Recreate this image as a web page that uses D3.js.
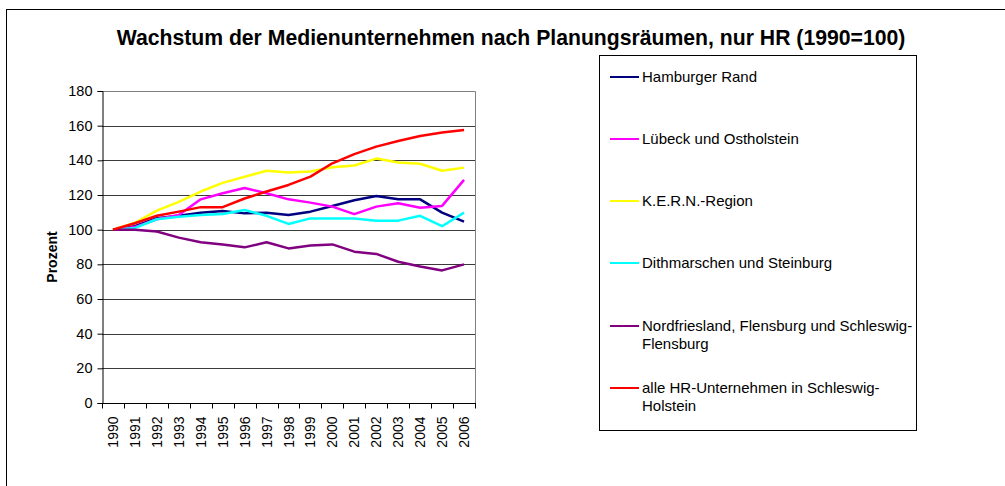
<!DOCTYPE html>
<html>
<head>
<meta charset="utf-8">
<script src="https://cdn.jsdelivr.net/npm/d3@7.9.0/dist/d3.min.js"></script>
<style>
  body { margin: 0; background: #fff; }
  svg { display: block; font-family: Arial, "Liberation Sans", sans-serif; }
</style>
</head>
<body>
<svg id="chart" width="1005" height="486"></svg>
<script>
const years = ['1990','1991','1992','1993','1994','1995','1996','1997','1998',
  '1999','2000','2001','2002','2003','2004','2005','2006'];

const hamburgerRand  = [100, 102, 106.6, 108, 109.8, 110.8, 109.4, 109.8, 108.5, 110.4, 113.7, 117, 119.4, 117.5, 117.5, 109.8, 104.6];
const luebeck        = [100, 101.5, 106, 108.5, 117.5, 121, 124, 121, 117.5, 115.6, 113.3, 109, 113.3, 115.2, 112.7, 113.7, 128.7];
const kern           = [100, 104, 111, 116, 122, 127, 130.5, 134, 133, 133.5, 136, 137, 141, 138.7, 138, 134, 135.8];
const dithmarschen   = [100, 101, 106, 107.5, 108.5, 109, 111.3, 108, 103.3, 106.5, 106.5, 106.5, 105.2, 105.2, 108, 102, 109.8];
const nordfriesland  = [100, 100, 98.9, 95.4, 92.7, 91.5, 89.8, 92.7, 89.2, 90.8, 91.5, 87.3, 86, 81.5, 78.7, 76.5, 80];
const alleHR         = [100, 103.7, 108, 110.4, 113, 113, 118, 122, 125.8, 130.6, 138.3, 143.6, 147.9, 151.2, 154, 156, 157.5];

const seriesNames  = ['Hamburger Rand', 'Lübeck und Ostholstein', 'K.E.R.N.-Region',
  'Dithmarschen und Steinburg', 'Nordfriesland, Flensburg und Schleswig-|Flensburg',
  'alle HR-Unternehmen in Schleswig-|Holstein'];
const seriesValues = [hamburgerRand, luebeck, kern, dithmarschen, nordfriesland, alleHR];
const seriesColors = ['#000080', '#ff00ff', '#ffff00', '#00ffff', '#800080', '#ff0000'];
const yTicks = [0, 20, 40, 60, 80, 100, 120, 140, 160, 180];

const svg = d3.select('#chart');

// outer chart border
svg.append('rect')
  .attr('x', 6.5).attr('y', 9.5)
  .attr('width', 1010).attr('height', 490)
  .attr('fill', '#fff').attr('stroke', '#000').attr('stroke-width', 1);

svg.append('text')
  .attr('x', 511).attr('y', 45)
  .attr('text-anchor', 'middle')
  .attr('font-size', 21.2).attr('font-weight', 'bold')
  .text('Wachstum der Medienunternehmen nach Planungsräumen, nur HR (1990=100)');

const plot = { left: 102, right: 475, top: 91, bottom: 403 };

const x = d3.scaleBand().domain(years).range([plot.left, plot.right]);
const y = d3.scaleLinear().domain([0, 180]).range([plot.bottom, plot.top]);

// gridlines
svg.append('g')
  .selectAll('line')
  .data(yTicks.filter(d => d > 0 && d < 180))
  .join('line')
    .attr('x1', plot.left).attr('x2', plot.right)
    .attr('y1', d => Math.round(y(d)) + 0.5).attr('y2', d => Math.round(y(d)) + 0.5)
    .attr('stroke', '#3a3a3a').attr('stroke-width', 1);

// plot area border (top + right)
svg.append('path')
  .attr('d', `M${plot.left},${plot.top + 0.5}H${plot.right + 0.5}V${plot.bottom}`)
  .attr('fill', 'none').attr('stroke', '#808080').attr('stroke-width', 1);

// y axis
const yAxis = svg.append('g')
  .attr('transform', `translate(${plot.left + 0.5},0)`)
  .call(d3.axisLeft(y).tickValues(yTicks).tickSize(5).tickPadding(5));
yAxis.select('.domain').attr('stroke', '#000');
yAxis.selectAll('.tick line').attr('stroke', '#000');
yAxis.selectAll('.tick text').attr('font-size', 14.5).attr('font-family', 'Arial, "Liberation Sans", sans-serif').attr('fill', '#000');

// x axis with ticks at band edges
const xAxisG = svg.append('g').attr('transform', `translate(0,${plot.bottom + 0.5})`);
xAxisG.append('line')
  .attr('x1', plot.left).attr('x2', plot.right + 1)
  .attr('stroke', '#000');
xAxisG.selectAll('line.tk')
  .data(years.concat(['end']))
  .join('line')
    .attr('class', 'tk')
    .attr('x1', (d, i) => Math.round(plot.left + i * x.step()) + 0.5)
    .attr('x2', (d, i) => Math.round(plot.left + i * x.step()) + 0.5)
    .attr('y1', 0).attr('y2', 5)
    .attr('stroke', '#000');
xAxisG.selectAll('text')
  .data(years)
  .join('text')
    .attr('transform', d => `translate(${x(d) + x.bandwidth() / 2 + 5},13) rotate(-90)`)
    .attr('text-anchor', 'end')
    .attr('font-size', 14)
    .text(d => d);

svg.append('text')
  .attr('transform', `translate(57,257) rotate(-90)`)
  .attr('text-anchor', 'middle')
  .attr('font-size', 14).attr('font-weight', 'bold')
  .text('Prozent');

// lines
const line = d3.line()
  .x((d, i) => x(years[i]) + x.bandwidth() / 2)
  .y(d => y(d));

svg.append('g')
  .selectAll('path')
  .data(seriesValues)
  .join('path')
    .attr('d', line)
    .attr('fill', 'none')
    .attr('stroke', (d, i) => seriesColors[i])
    .attr('stroke-width', 2.5)
    .attr('stroke-linejoin', 'round');

// legend
svg.append('rect')
  .attr('x', 599.5).attr('y', 55.5)
  .attr('width', 317).attr('height', 375)
  .attr('fill', '#fff').attr('stroke', '#000');

const legendY = [77, 139, 201, 263, 326, 388];
const legend = svg.append('g')
  .selectAll('g')
  .data(seriesNames)
  .join('g')
    .attr('transform', (d, i) => `translate(0,${legendY[i]})`);
legend.append('line')
  .attr('x1', 610).attr('x2', 639)
  .attr('y1', 0).attr('y2', 0)
  .attr('stroke', (d, i) => seriesColors[i])
  .attr('stroke-width', 2);
legend.append('text')
  .attr('x', 642).attr('y', 5)
  .attr('font-size', 15)
  .selectAll('tspan')
  .data(d => d.split('|'))
  .join('tspan')
    .attr('x', 642)
    .attr('dy', (d, i) => i === 0 ? 0 : 18)
    .text(d => d);
</script>
</body>
</html>
